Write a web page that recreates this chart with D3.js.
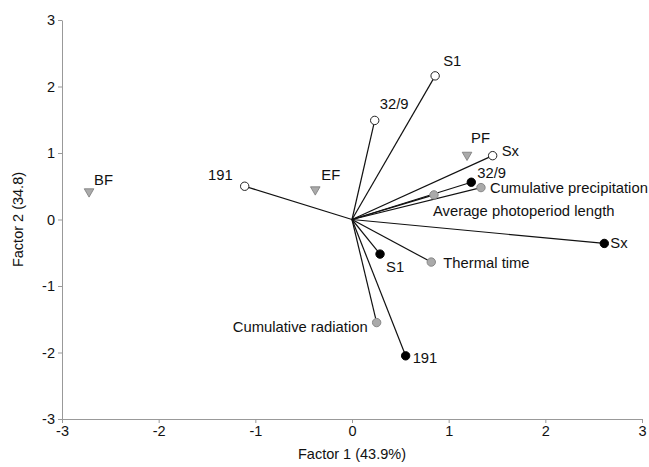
<!DOCTYPE html>
<html>
<head>
<meta charset="utf-8">
<script src="https://cdn.jsdelivr.net/npm/d3@7"></script>
<style>
  body { margin: 0; background: #fff; }
  text { font-family: "Liberation Sans", Arial, sans-serif; fill: #111; }
</style>
</head>
<body>
<svg id="chart"></svg>
<script>
// vectors from the origin: name, kind, factor 1, factor 2
const vecNames = ["191", "32/9", "S1", "Sx",
                  "32/9", "Sx", "S1", "191",
                  "Cumulative precipitation", "Average photoperiod length", "Thermal time", "Cumulative radiation"];
const vecKinds = ["open", "open", "open", "open",
                  "black", "black", "black", "black",
                  "gray", "gray", "gray", "gray"];
const vecF1 = [-1.11, 0.235, 0.86, 1.455, 1.234, 2.61, 0.29, 0.555, 1.334, 0.848, 0.82, 0.255];
const vecF2 = [0.50, 1.49, 2.16, 0.96, 0.56, -0.36, -0.52, -2.05, 0.48, 0.37, -0.64, -1.55];

// triangles (no vector)
const triNames = ["BF", "EF", "PF"];
const triF1 = [-2.72, -0.38, 1.19];
const triF2 = [0.42, 0.45, 0.97];

const ticks = [-3, -2, -1, 0, 1, 2, 3];

// label placement (pixels, relative to the marker)
const vecLabelPos = [
  {dx: -12, dy: -6, anchor: "end"},
  {dx: 5, dy: -11, anchor: "start"},
  {dx: 8, dy: -10, anchor: "start"},
  {dx: 9, dy: 0, anchor: "start"},
  {dx: 6, dy: -4, anchor: "start"},
  {dx: 6, dy: 5, anchor: "start"},
  {dx: 6, dy: 18, anchor: "start"},
  {dx: 7, dy: 7, anchor: "start"},
  {dx: 9, dy: 5, anchor: "start"},
  {dx: -1, dy: 21, anchor: "start"},
  {dx: 12, dy: 6, anchor: "start"},
  {dx: -9, dy: 9, anchor: "end"}
];
const triLabelPos = [
  {dx: 5, dy: -7}, {dx: 6, dy: -10}, {dx: 4, dy: -12}
];

const width = 649, height = 467;
const margin = {left: 62, top: 20, right: 7, bottom: 48};

const svg = d3.select("#chart").attr("width", width).attr("height", height);

const x = d3.scaleLinear().domain([-3, 3]).range([margin.left, width - margin.right]);
const y = d3.scaleLinear().domain([-3, 3]).range([height - margin.bottom, margin.top]);

// axes
const xAxis = svg.append("g")
    .attr("transform", "translate(0," + y(-3) + ")")
    .call(d3.axisBottom(x).tickValues(ticks).tickSize(4).tickSizeOuter(0).tickPadding(3).tickFormat(d3.format("d")));
const yAxis = svg.append("g")
    .attr("transform", "translate(" + x(-3) + ",0)")
    .call(d3.axisLeft(y).tickValues(ticks).tickSize(4).tickSizeOuter(0).tickPadding(3).tickFormat(d3.format("d")));

[xAxis, yAxis].forEach(g => {
  g.select(".domain").attr("stroke", "#999");
  g.selectAll(".tick line").attr("stroke", "#999");
  g.selectAll(".tick text")
    .style("font-family", "'Liberation Sans', Arial, sans-serif")
    .style("font-size", "14.5px")
    .attr("fill", "#111");
});
xAxis.selectAll(".tick text").text(d => d < 0 ? "-" + Math.abs(d) : d);
yAxis.selectAll(".tick text").text(d => d < 0 ? "-" + Math.abs(d) : d);

svg.append("text")
    .attr("text-anchor", "middle")
    .attr("x", (x(-3) + x(3)) / 2)
    .attr("y", 459)
    .style("font-size", "14.5px")
    .text("Factor 1 (43.9%)");

svg.append("text")
    .attr("text-anchor", "middle")
    .attr("transform", "translate(23," + y(0) + ") rotate(-90)")
    .style("font-size", "14.5px")
    .text("Factor 2 (34.8)");

// vectors
const vecs = vecNames.map((n, i) => ({name: n, kind: vecKinds[i], f1: vecF1[i], f2: vecF2[i], lab: vecLabelPos[i]}));

svg.append("g").selectAll("line")
  .data(vecs)
  .join("line")
    .attr("x1", x(0)).attr("y1", y(0))
    .attr("x2", d => x(d.f1)).attr("y2", d => y(d.f2))
    .attr("stroke", "#111")
    .attr("stroke-width", 1.2);

const fills = {open: "#fff", black: "#000", gray: "#aaa"};
const strokes = {open: "#222", black: "#000", gray: "#888"};

svg.append("g").selectAll("circle")
  .data(vecs)
  .join("circle")
    .attr("cx", d => x(d.f1)).attr("cy", d => y(d.f2))
    .attr("r", 4.2)
    .attr("fill", d => fills[d.kind])
    .attr("stroke", d => strokes[d.kind])
    .attr("stroke-width", 1);

svg.append("g").selectAll("text")
  .data(vecs)
  .join("text")
    .attr("x", d => x(d.f1) + d.lab.dx)
    .attr("y", d => y(d.f2) + d.lab.dy)
    .attr("text-anchor", d => d.lab.anchor)
    .style("font-size", "14.8px")
    .text(d => d.name);

// triangles
const tris = triNames.map((n, i) => ({name: n, f1: triF1[i], f2: triF2[i], lab: triLabelPos[i]}));
const tri = d3.symbol().type(d3.symbolTriangle).size(40);

svg.append("g").selectAll("path")
  .data(tris)
  .join("path")
    .attr("d", tri)
    .attr("transform", d => "translate(" + x(d.f1) + "," + y(d.f2) + ") rotate(180)")
    .attr("fill", "#aaa")
    .attr("stroke", "#777")
    .attr("stroke-width", 0.8);

svg.append("g").selectAll("text")
  .data(tris)
  .join("text")
    .attr("x", d => x(d.f1) + d.lab.dx)
    .attr("y", d => y(d.f2) + d.lab.dy)
    .style("font-size", "14.8px")
    .text(d => d.name);
</script>
</body>
</html>
